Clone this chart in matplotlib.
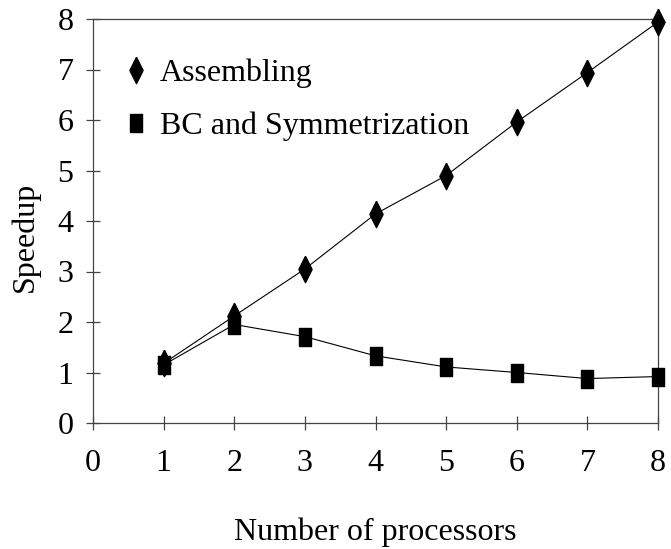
import matplotlib
matplotlib.use("Agg")
import matplotlib.pyplot as plt
from matplotlib.lines import Line2D

processors = [1, 2, 3, 4, 5, 6, 7, 8]
assembling = [1.18, 2.12, 3.05, 4.14, 4.9, 5.96, 6.94, 7.94]
bc_symmetrization = [1.15, 1.95, 1.71, 1.33, 1.11, 1.0, 0.88, 0.92]
x_ticks = [0, 1, 2, 3, 4, 5, 6, 7, 8]
y_ticks = [0, 1, 2, 3, 4, 5, 6, 7, 8]
labels = ["Assembling", "BC and Symmetrization"]

plt.rcParams['font.family'] = ['Liberation Serif', 'DejaVu Serif']
FS = 23

diamond = [(0, 1), (0.5, 0), (0, -1), (-0.5, 0), (0, 1)]
rect = [(-0.35, -0.5), (0.35, -0.5), (0.35, 0.5), (-0.35, 0.5), (-0.35, -0.5)]

fig = plt.figure(figsize=(6.71, 5.49), dpi=100)
ax = fig.add_axes([93/671, 1 - 423/549, 565/671, 404/549])

ax.plot(processors, assembling, color='black', lw=0.8, marker=diamond,
        markersize=19, markerfacecolor='black', markeredgecolor='black',
        clip_on=False, zorder=3)
ax.plot(processors, bc_symmetrization, color='black', lw=0.8, marker=rect,
        markersize=13, markerfacecolor='black', markeredgecolor='black',
        clip_on=False, zorder=3)

ax.set_xlim(0, 8)
ax.set_ylim(0, 8)
ax.set_xticks(x_ticks)
ax.set_yticks(y_ticks)
ax.set_xticklabels([str(t) for t in x_ticks], fontsize=FS)
ax.set_yticklabels([str(t) for t in y_ticks], fontsize=FS)

spine_color = '#444444'
for s in ax.spines.values():
    s.set_color(spine_color)
    s.set_linewidth(0.9)
ax.tick_params(axis='both', direction='inout', length=10, width=0.9,
               color=spine_color)
ax.tick_params(axis='x', pad=14)
ax.tick_params(axis='y', pad=9)

ax.set_xlabel("Number of processors", fontsize=FS, labelpad=28)
ax.set_ylabel("Speedup", fontsize=FS)
ax.yaxis.set_label_coords(-0.094, 0.46)

handles = [
    Line2D([], [], linestyle='none', marker=diamond, markersize=19,
           color='black'),
    Line2D([], [], linestyle='none', marker=rect, markersize=13,
           color='black'),
]
ax.legend(handles, labels, loc='upper left', bbox_to_anchor=(0.048, 0.901),
          frameon=False, fontsize=FS, handlelength=1.0, handletextpad=0.24,
          labelspacing=0.72, borderpad=0, borderaxespad=0)

fig.savefig("out.png", dpi=100)
